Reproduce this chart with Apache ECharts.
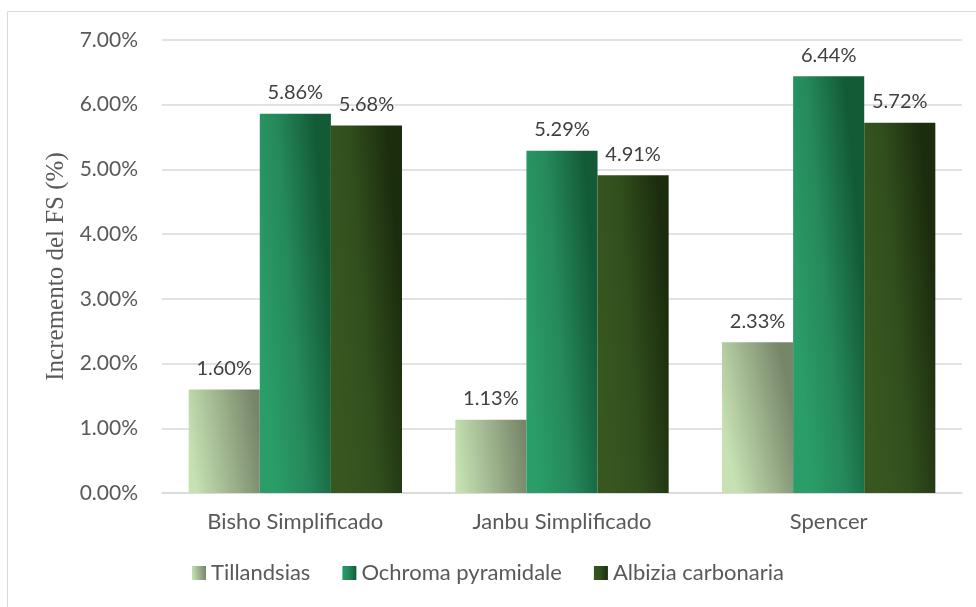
<!DOCTYPE html>
<html><head><meta charset="utf-8">
<script src="https://cdn.jsdelivr.net/npm/echarts@6/dist/echarts.min.js"></script>
<style>html,body{margin:0;padding:0;background:#fff}#c{width:976px;height:607px}</style>
</head><body><div id="c"></div>
<script>
var categories = ['Bisho Simplificado', 'Janbu Simplificado', 'Spencer'];
var seriesNames = ['Tillandsias', 'Ochroma pyramidale', 'Albizia carbonaria'];
var tillandsias = [1.60, 1.13, 2.33];
var ochroma = [5.86, 5.29, 6.44];
var albizia = [5.68, 4.91, 5.72];
var yTicks = [0, 1, 2, 3, 4, 5, 6, 7];

var G = echarts.graphic.LinearGradient;
var colors = [
  new G(0, 0.55, 1, 0.45, [{offset: 0, color: '#c6e2b3'}, {offset: 1, color: '#778669'}]),
  new G(0, 0.508, 1, 0.492, [{offset: 0, color: '#2a9d68'}, {offset: 0.45, color: '#25895b'}, {offset: 1, color: '#135a37'}]),
  new G(0, 0.508, 1, 0.492, [{offset: 0, color: '#38571f'}, {offset: 0.45, color: '#314f1d'}, {offset: 1, color: '#1c2d0e'}])
];
var dataArr = [tillandsias, ochroma, albizia];
var font = 'Lato, "Open Sans", sans-serif';

var chart = echarts.init(document.getElementById('c'), null, {renderer: 'canvas'});
chart.setOption({
  animation: false,
  backgroundColor: '#fff',
  graphic: [{type: 'rect', shape: {x: 7.5, y: 11.5, width: 980, height: 610}, style: {fill: 'none', stroke: '#d9d9d9', lineWidth: 1}, silent: true}],
  grid: {left: 162, right: 14, top: 40, bottom: 114, containLabel: false},
  legend: {
    bottom: 18, left: 'center', itemWidth: 14, itemHeight: 14, itemGap: 32,
    icon: 'rect',
    textStyle: {color: '#595959', fontSize: 22, fontFamily: font},
    data: seriesNames
  },
  xAxis: {
    type: 'category', data: categories,
    axisLine: {lineStyle: {color: '#d9d9d9', width: 1.5}},
    axisTick: {show: false},
    axisLabel: {color: '#595959', fontSize: 22, fontFamily: font, margin: 18}
  },
  yAxis: {
    type: 'value', min: yTicks[0], max: yTicks[yTicks.length - 1], interval: 1,
    name: 'Incremento del FS (%)', nameLocation: 'middle', nameGap: 88,
    nameTextStyle: {color: '#595959', fontSize: 25, fontFamily: '"Liberation Serif", "DejaVu Serif", serif'},
    axisLine: {show: false}, axisTick: {show: false},
    splitLine: {lineStyle: {color: '#d9d9d9', width: 1.5}},
    axisLabel: {color: '#595959', fontSize: 21, fontFamily: font, margin: 24,
      formatter: function (v) { return v.toFixed(2) + '%'; }}
  },
  series: seriesNames.map(function (n, i) {
    return {
      name: n, type: 'bar', data: dataArr[i],
      barGap: '0%', barCategoryGap: '20%',
      itemStyle: {color: colors[i]},
      label: {show: true, position: 'top', distance: 11, color: '#404040', fontSize: 20, fontFamily: font,
        formatter: function (p) { return p.value.toFixed(2) + '%'; }}
    };
  })
});
</script></body></html>
